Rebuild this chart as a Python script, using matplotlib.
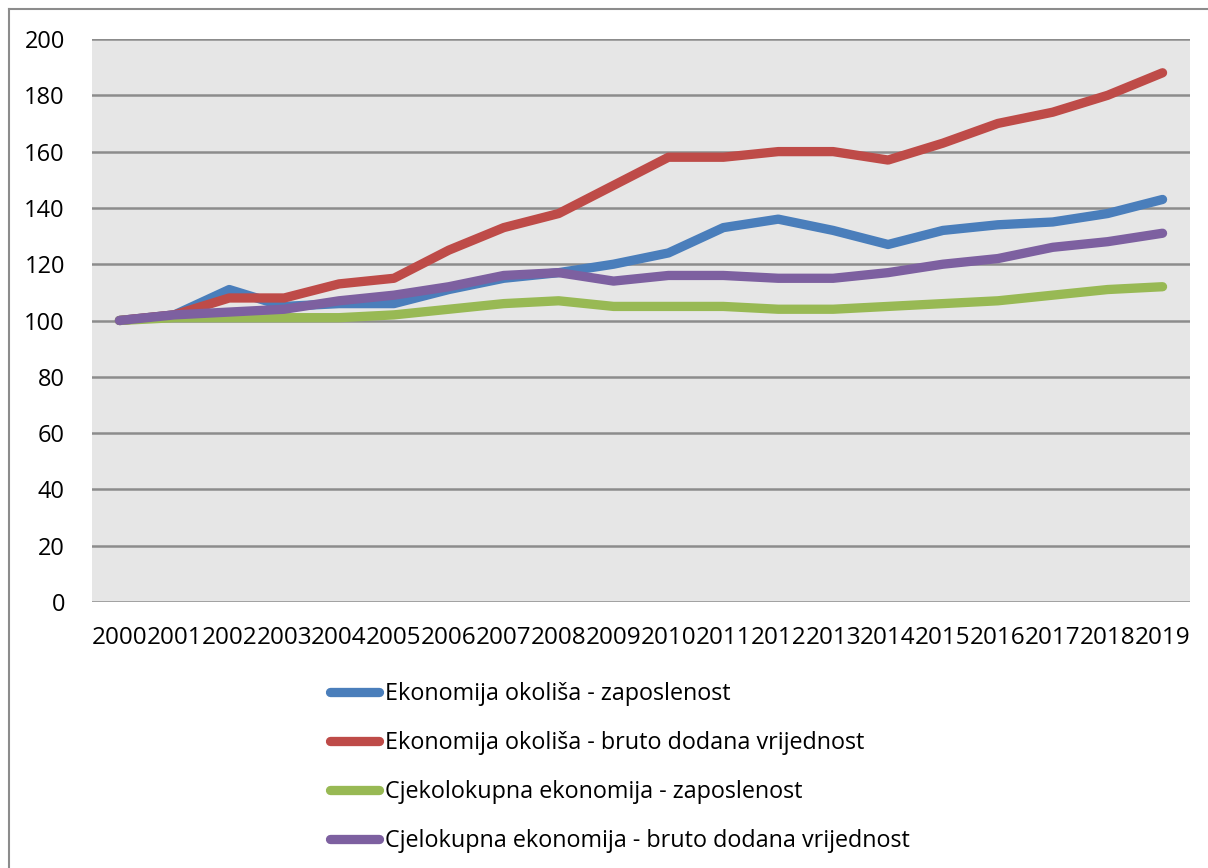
import matplotlib
matplotlib.use("Agg")
import matplotlib.pyplot as plt
from matplotlib.lines import Line2D

years = [str(y) for y in range(2000, 2020)]
eo_zaposlenost = [100, 102, 111, 105, 106, 106, 111, 115, 117, 120, 124, 133, 136, 132, 127, 132, 134, 135, 138, 143]
eo_bdv = [100, 102, 108, 108, 113, 115, 125, 133, 138, 148, 158, 158, 160, 160, 157, 163, 170, 174, 180, 188]
ce_zaposlenost = [100, 101, 101, 101, 101, 102, 104, 106, 107, 105, 105, 105, 104, 104, 105, 106, 107, 109, 111, 112]
ce_bdv = [100, 102, 103, 104, 107, 109, 112, 116, 117, 114, 116, 116, 115, 115, 117, 120, 122, 126, 128, 131]
labels = ["Ekonomija okoliša - zaposlenost",
          "Ekonomija okoliša - bruto dodana vrijednost",
          "Cjekolokupna ekonomija - zaposlenost",
          "Cjelokupna ekonomija - bruto dodana vrijednost"]
colors = ["#4A7EBB", "#BE4B48", "#98B954", "#7D60A0"]
yticks = list(range(0, 201, 20))

plt.rcParams['font.family'] = ['Open Sans', 'DejaVu Sans']

W, H = 1208, 868
fig = plt.figure(figsize=(W / 100, H / 100), dpi=100)
ax = fig.add_axes([92 / W, (H - 602) / H, 1098 / W, 563 / H])
ax.set_facecolor("#E6E6E6")

x = list(range(len(years)))
series = [eo_zaposlenost, eo_bdv, ce_zaposlenost, ce_bdv]
for s, c in zip(series, colors):
    ax.plot(x, s, color=c, lw=6.7, solid_capstyle='round', solid_joinstyle='round', zorder=3)

ax.set_xlim(-0.5, len(years) - 0.5)
ax.set_ylim(0, 200)
ax.set_yticks(yticks)
ax.set_yticklabels([str(v) for v in yticks], fontsize=17)
ax.set_xticks(x)
ax.set_xticklabels(years, fontsize=17.5)
ax.tick_params(axis='both', length=0)
ax.tick_params(axis='y', pad=19.5)
ax.tick_params(axis='x', pad=17)
ax.grid(axis='y', color='#8C8C8C', lw=1.8, zorder=1)
for sp in ax.spines.values():
    sp.set_visible(False)

handles = [Line2D([0], [0], color=c, lw=6.7, solid_capstyle='round') for c in colors]
fig.legend(handles, labels, loc='upper left', bbox_to_anchor=(329.5 / W, 1 - 682 / H),
           frameon=False, fontsize=16.8, handlelength=2.1, handletextpad=0.28,
           labelspacing=1.07, borderaxespad=0, borderpad=0)

# outer chart border
fig.add_artist(Line2D([9 / W, 9 / W], [0, 1 - 9 / H], color='#8C8C8C', lw=1.5, transform=fig.transFigure))
fig.add_artist(Line2D([9 / W, 1], [1 - 9 / H, 1 - 9 / H], color='#8C8C8C', lw=1.5, transform=fig.transFigure))

fig.savefig("out.png", dpi=100, facecolor='white')
